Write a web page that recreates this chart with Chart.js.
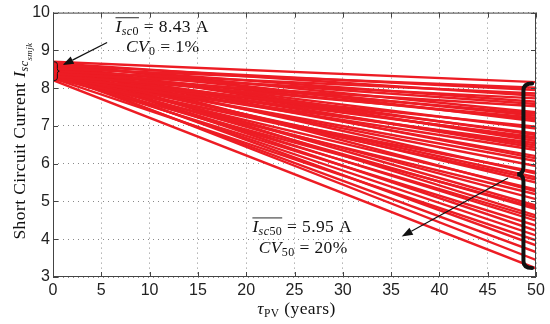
<!DOCTYPE html>
<html><head><meta charset="utf-8">
<script src="https://cdn.jsdelivr.net/npm/chart.js@4.4.1/dist/chart.umd.min.js"></script>
<style>html,body{margin:0;padding:0;background:#fff}#wrap{width:550px;height:324px}</style>
</head><body><div id="wrap"><canvas id="c" width="550" height="324"></canvas></div>
<script>
// Data
const years = [0, 50];
const startValues = [8.70, 8.52, 8.61, 8.45, 8.66, 8.38, 8.58, 8.49, 8.31, 8.63,
  8.42, 8.55, 8.36, 8.47, 8.68, 8.29, 8.51, 8.40, 8.57, 8.33,
  8.46, 8.62, 8.27, 8.44, 8.53, 8.35, 8.48, 8.59, 8.39, 8.43,
  8.25, 8.56, 8.41, 8.34, 8.50, 8.37, 8.64, 8.30, 8.45, 8.54,
  8.28, 8.43, 8.60, 8.36, 8.47, 8.32, 8.52, 8.40, 8.26, 8.49,
  8.38, 8.44, 8.21];
const endValues = [8.16, 8.01, 7.95, 7.86, 7.80, 7.73, 7.64, 7.58, 7.52, 7.36,
  7.32, 7.27, 7.22, 7.17, 7.12, 6.98, 6.93, 6.80, 6.76, 6.70,
  6.66, 6.60, 6.54, 6.48, 6.42, 6.36, 6.20, 6.14, 6.07, 5.94,
  5.78, 5.74, 5.64, 5.58, 5.50, 5.32, 5.27, 5.19, 5.06, 4.89,
  4.84, 4.80, 4.63, 4.57, 4.49, 4.36, 4.23, 4.10, 3.97, 3.84,
  3.66, 3.45, 3.23];
const xTickValues = [0, 5, 10, 15, 20, 25, 30, 35, 40, 45, 50];
const yTickValues = [3, 4, 5, 6, 7, 8, 9, 10];

const RED = '#ED1C24';
const SERIF = '"Liberation Serif", "Times New Roman", serif';

const datasets = startValues.map((s, i) => ({
  data: [{x: years[0], y: s}, {x: years[1], y: endValues[i]}],
  borderColor: RED, borderWidth: 2.4, pointRadius: 0, fill: false, tension: 0
}));

function rich(ctx, parts, x, y, align) {
  let w = 0;
  parts.forEach(p => { ctx.font = p.font; p.w = ctx.measureText(p.t).width; w += p.w; });
  let cx = align === 'center' ? x - w / 2 : x;
  const pos = [];
  parts.forEach(p => {
    ctx.font = p.font;
    ctx.fillText(p.t, cx, y + (p.dy || 0));
    pos.push([cx, cx + p.w]);
    cx += p.w;
  });
  return pos;
}
const F = (sz, it) => (it ? 'italic ' : '') + sz + 'px ' + SERIF;

function arrow(ctx, x1, y1, x2, y2) {
  const a = Math.atan2(y2 - y1, x2 - x1), L = 11, W = 4;
  const bx = x2 - L * Math.cos(a), by = y2 - L * Math.sin(a);
  ctx.beginPath(); ctx.moveTo(x1, y1); ctx.lineTo(bx, by); ctx.lineWidth = 1.2; ctx.stroke();
  ctx.beginPath(); ctx.moveTo(x2, y2);
  ctx.lineTo(bx + W * Math.sin(a), by - W * Math.cos(a));
  ctx.lineTo(bx - W * Math.sin(a), by + W * Math.cos(a));
  ctx.closePath(); ctx.fill();
}
function brace(ctx, x0, xs, xTip, yTop, yMid, yBot, r) {
  ctx.beginPath();
  ctx.moveTo(x0, yTop);
  ctx.quadraticCurveTo(xs, yTop, xs, yTop + r);
  ctx.lineTo(xs, yMid - r);
  ctx.quadraticCurveTo(xs, yMid, xTip, yMid);
  ctx.quadraticCurveTo(xs, yMid, xs, yMid + r);
  ctx.lineTo(xs, yBot - r);
  ctx.quadraticCurveTo(xs, yBot, x0, yBot);
  ctx.stroke();
}

const decor = {
  id: 'decor',
  afterDraw(chart) {
    const ctx = chart.ctx, a = chart.chartArea;
    const xs = chart.scales.x, ys = chart.scales.y;
    const X = v => xs.getPixelForValue(v), Y = v => ys.getPixelForValue(v);
    ctx.save();
    // frame + inward ticks
    ctx.strokeStyle = '#444'; ctx.lineWidth = 1;
    ctx.strokeRect(a.left + 0.5, a.top + 0.5, a.right - a.left - 1, a.bottom - a.top - 1);
    ctx.beginPath();
    xTickValues.forEach(v => { const px = Math.round(X(v)) + 0.5;
      ctx.moveTo(px, a.bottom); ctx.lineTo(px, a.bottom - 5);
      ctx.moveTo(px, a.top); ctx.lineTo(px, a.top + 5); });
    yTickValues.forEach(v => { const py = Math.round(Y(v)) + 0.5;
      ctx.moveTo(a.left, py); ctx.lineTo(a.left + 5, py);
      ctx.moveTo(a.right, py); ctx.lineTo(a.right - 5, py); });
    ctx.stroke();

    ctx.fillStyle = '#111'; ctx.strokeStyle = '#111';
    ctx.textBaseline = 'alphabetic'; ctx.textAlign = 'left';
    ctx.letterSpacing = '0.4px';
    // annotation 1
    let p = rich(ctx, [{t:'I', font:F(17.5,true)}, {t:'sc', font:F(12,true), dy:3}, {t:'0', font:F(12), dy:3}, {t:' = 8.43 A', font:F(17.5)}], X(11.3), Y(9.48), 'center');
    ctx.lineWidth = 0.9; ctx.beginPath(); ctx.moveTo(p[0][0], Y(9.48) - 14.5); ctx.lineTo(p[2][1], Y(9.48) - 14.5); ctx.stroke();
    rich(ctx, [{t:'CV', font:F(17.5,true)}, {t:'0', font:F(12), dy:3}, {t:' = 1%', font:F(17.5)}], X(11.35), Y(8.95), 'center');
    // annotation 2
    p = rich(ctx, [{t:'I', font:F(17.5,true)}, {t:'sc', font:F(12,true), dy:3}, {t:'50', font:F(12), dy:3}, {t:' = 5.95 A', font:F(17.5)}], X(25.8), Y(4.18), 'center');
    ctx.beginPath(); ctx.moveTo(p[0][0], Y(4.18) - 14.5); ctx.lineTo(p[2][1], Y(4.18) - 14.5); ctx.stroke();
    rich(ctx, [{t:'CV', font:F(17.5,true)}, {t:'50', font:F(12), dy:3}, {t:' = 20%', font:F(17.5)}], X(25.9), Y(3.63), 'center');
    // arrows
    arrow(ctx, X(5.6), Y(9.21), X(1.0), Y(8.61));
    arrow(ctx, X(47.1), Y(5.62), X(36.1), Y(4.07));
    // small brace "}"
    ctx.lineWidth = 1; ctx.lineCap = 'round';
    brace(ctx, X(0.15), X(0.45), X(0.65), Y(8.7), Y(8.45), Y(8.2), 2.5);
    // big brace "{"
    ctx.lineWidth = 4;
    brace(ctx, X(49.6), X(48.7), X(48.05), Y(8.12), Y(5.72), Y(3.24), 7);

    // axis titles
    ctx.fillStyle = '#111';
    rich(ctx, [{t:'\u03C4', font:F(17.5,true)}, {t:'PV', font:F(11.5), dy:3}, {t:' (years)', font:F(17.5)}], (a.left + a.right) / 2 + 2, 314, 'center');
    ctx.translate(25, 141);
    ctx.rotate(-Math.PI / 2);
    rich(ctx, [{t:'Short Circuit Current ', font:F(17.5)}, {t:'I', font:F(17.5,true)}, {t:'sc', font:F(12,true), dy:3}, {t:'smjk', font:F(9,true), dy:6.5}], 0, 0, 'center');
    ctx.restore();
  }
};

new Chart(document.getElementById('c'), {
  type: 'line',
  data: { datasets },
  options: {
    responsive: false, animation: false, devicePixelRatio: 1,
    layout: { padding: { left: 0, right: 14, top: 10, bottom: 0 } },
    plugins: { legend: { display: false }, tooltip: { enabled: false } },
    scales: {
      x: {
        type: 'linear', min: 0, max: 50,
        afterFit(s) { s.height = 47; },
        afterBuildTicks(s) { s.ticks = xTickValues.map(v => ({ value: v })); },
        ticks: { font: { family: '"Liberation Sans", Arial, sans-serif', size: 16 }, color: '#222', padding: 4, maxRotation: 0, autoSkip: false },
        grid: { color: '#8a8a8a', drawTicks: false, lineWidth: 1 },
        border: { display: false, dash: [1, 4] }
      },
      y: {
        type: 'linear', min: 3, max: 10,
        afterFit(s) { s.width = 53; },
        afterBuildTicks(s) { s.ticks = yTickValues.map(v => ({ value: v })); },
        ticks: { font: { family: '"Liberation Sans", Arial, sans-serif', size: 16 }, color: '#222', padding: 3 },
        grid: { color: '#8a8a8a', drawTicks: false, lineWidth: 1 },
        border: { display: false, dash: [1, 4] }
      }
    }
  },
  plugins: [decor]
});
</script></body></html>
